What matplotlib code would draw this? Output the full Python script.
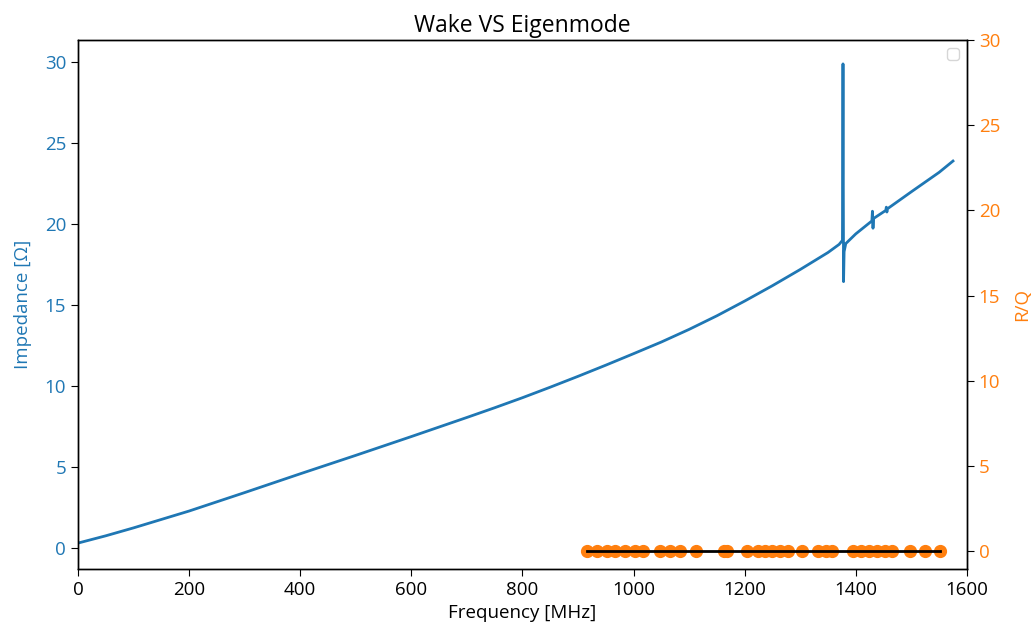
import matplotlib
matplotlib.use("Agg")
import matplotlib.pyplot as plt

plt.rcParams["font.family"] = ["Open Sans", "DejaVu Sans"]
plt.rcParams["xtick.major.size"] = 5
plt.rcParams["ytick.major.size"] = 5
plt.rcParams["axes.linewidth"] = 1.0

# wakefield impedance curve
freq_mhz = [0, 50, 100, 150, 200, 250, 300, 350, 400, 450, 500, 550, 600, 650,
            700, 750, 800, 850, 900, 950, 1000, 1050, 1100, 1150, 1200, 1250,
            1300, 1350, 1370, 1376, 1377, 1378, 1379, 1382, 1400, 1429, 1430,
            1431, 1432, 1454, 1455, 1456, 1457, 1500, 1550, 1575]
impedance = [0.30, 0.75, 1.24, 1.76, 2.28, 2.85, 3.42, 4.00, 4.58, 5.15, 5.72,
             6.30, 6.88, 7.47, 8.06, 8.66, 9.28, 9.93, 10.60, 11.29, 12.00,
             12.72, 13.50, 14.34, 15.25, 16.20, 17.20, 18.25, 18.75, 19.00,
             29.9, 16.45, 18.3, 18.8, 19.4, 20.2, 20.8, 19.75, 20.35, 20.85,
             21.05, 20.75, 20.95, 22.0, 23.2, 23.9]

# eigenmode frequencies and R/Q
eig_freq = [916, 934, 952, 967, 985, 1003, 1017, 1048, 1066, 1084, 1112, 1162,
            1168, 1204, 1224, 1237, 1249, 1264, 1278, 1303, 1332, 1346, 1357,
            1395, 1409, 1424, 1438, 1453, 1465, 1498, 1525, 1552]
eig_rq = [0.0] * len(eig_freq)

fig, ax1 = plt.subplots(figsize=(10.33, 6.29), dpi=100)
fig.subplots_adjust(left=0.0755, right=0.936, top=0.936, bottom=0.0954)

ax1.plot(freq_mhz, impedance, color="C0", lw=2)
ax1.set_xlim(0, 1600)
ax1.set_ylim(-1.3, 31.36)
ax1.set_xlabel("Frequency [MHz]", fontsize=13.5)
ax1.set_ylabel("Impedance [Ω]", color="C0", fontsize=13.5, labelpad=9)
ax1.tick_params(axis="y", labelcolor="C0", labelsize=13.5)
ax1.tick_params(axis="x", labelsize=13.5)
ax1.set_title("Wake VS Eigenmode", fontsize=16.5)

ax2 = ax1.twinx()
markers, stems, base = ax2.stem(eig_freq, eig_rq, linefmt="C1-", markerfmt="C1o", basefmt="k-")
markers.set_markersize(8.5)
markers.set_zorder(2)
base.set_zorder(3)
base.set_linewidth(2)
ax2.set_ylim(-1.06, 30)
ax2.set_ylabel("R/Q", color="C1", fontsize=13.5, labelpad=9)
ax2.tick_params(axis="y", labelcolor="C1", labelsize=13.5)
ax2.legend(fontsize=11)

fig.savefig("out.png", dpi=100)
